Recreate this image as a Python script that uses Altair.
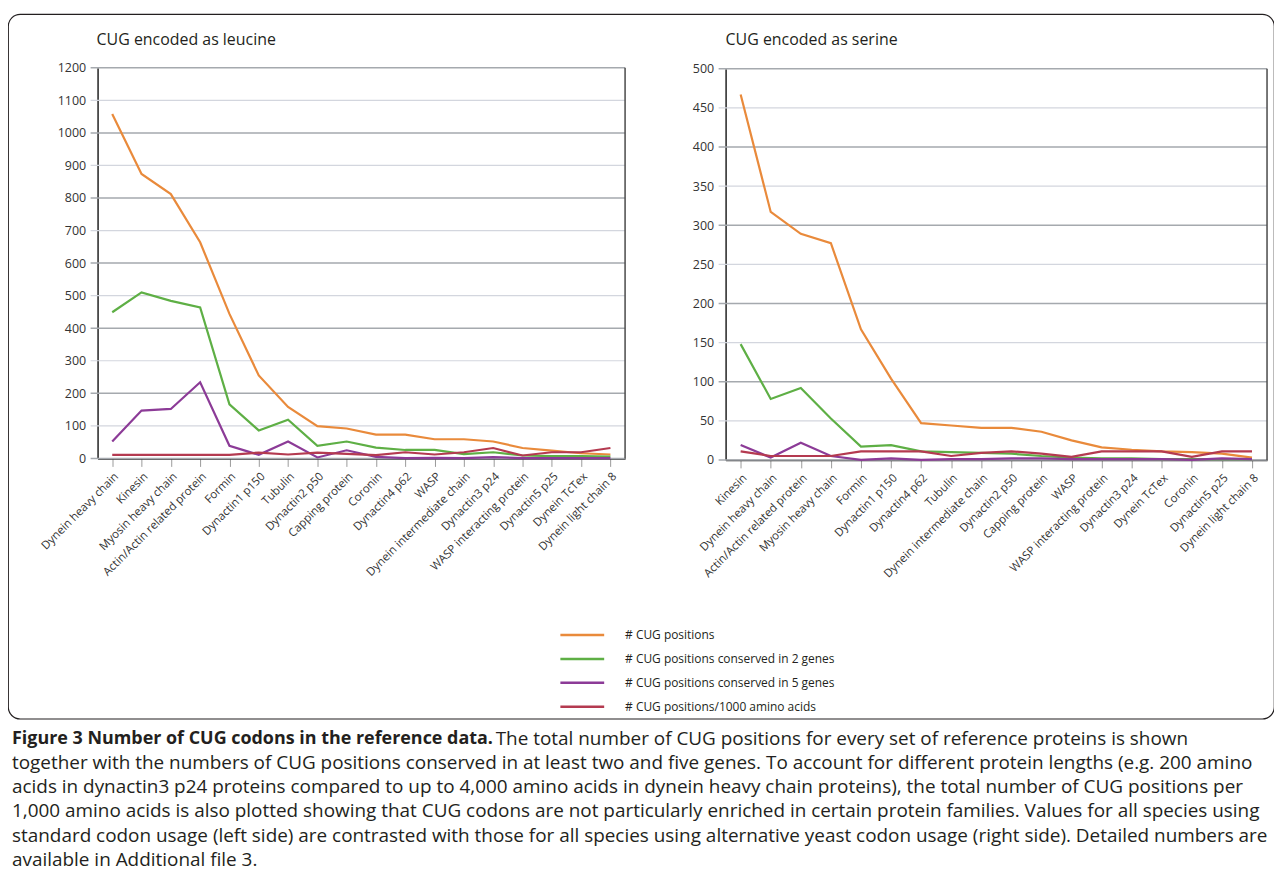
import altair as alt
import pandas as pd

# ---------------- data ----------------
series_names = [
    "# CUG positions",
    "# CUG positions conserved in 2 genes",
    "# CUG positions conserved in 5 genes",
    "# CUG positions/1000 amino acids",
]
series_colors = ["#E98A3B", "#5EAF45", "#8C3B97", "#B43A50"]

left_categories = [
    "Dynein heavy chain", "Kinesin", "Myosin heavy chain", "Actin/Actin related protein",
    "Formin", "Dynactin1 p150", "Tubulin", "Dynactin2 p50", "Capping protein", "Coronin",
    "Dynactin4 p62", "WASP", "Dynein intermediate chain", "Dynactin3 p24",
    "WASP interacting protein", "Dynactin5 p25", "Dynein TcTex", "Dynein light chain 8",
]
left_total = [1058, 874, 812, 664, 444, 255, 158, 99, 92, 73, 73, 59, 59, 52, 32, 24, 16, 12]
left_cons2 = [449, 510, 484, 464, 166, 86, 119, 39, 52, 33, 26, 26, 13, 19, 9, 7, 7, 6]
left_cons5 = [52, 147, 152, 234, 39, 11, 52, 3, 25, 5, 1, 2, 1, 4, 1, 1, 1, 1]
left_per1000 = [11, 11, 11, 11, 11, 18, 12, 18, 14, 10, 19, 12, 19, 32, 9, 19, 19, 32]

right_categories = [
    "Kinesin", "Dynein heavy chain", "Actin/Actin related protein", "Myosin heavy chain",
    "Formin", "Dynactin1 p150", "Dynactin4 p62", "Tubulin", "Dynein intermediate chain",
    "Dynactin2 p50", "Capping protein", "WASP", "WASP interacting protein", "Dynactin3 p24",
    "Dynein TcTex", "Coronin", "Dynactin5 p25", "Dynein light chain 8",
]
right_total = [467, 317, 289, 277, 167, 104, 47, 44, 41, 41, 36, 25, 16, 13, 11, 10, 8, 3]
right_cons2 = [148, 78, 92, 53, 17, 19, 11, 10, 9, 8, 5, 3, 2, 2, 1, 1, 1, 1]
right_cons5 = [19, 3, 22, 5, 0, 2, 0, 1, 1, 2, 2, 1, 1, 1, 1, 0, 2, 1]
right_per1000 = [11, 5, 5, 5, 11, 11, 11, 5, 9, 11, 8, 4, 11, 11, 11, 4, 11, 11]

left_ticks = [0, 100, 200, 300, 400, 500, 600, 700, 800, 900, 1000, 1100, 1200]
right_ticks = [0, 50, 100, 150, 200, 250, 300, 350, 400, 450, 500]

left_title = "CUG encoded as leucine"
right_title = "CUG encoded as serine"

caption_bold = "Figure 3 Number of CUG codons in the reference data."
caption_first = "The total number of CUG positions for every set of reference proteins is shown"
caption_rest = [
    "together with the numbers of CUG positions conserved in at least two and five genes. To account for different protein lengths (e.g. 200 amino",
    "acids in dynactin3 p24 proteins compared to up to 4,000 amino acids in dynein heavy chain proteins), the total number of CUG positions per",
    "1,000 amino acids is also plotted showing that CUG codons are not particularly enriched in certain protein families. Values for all species using",
    "standard codon usage (left side) are contrasted with those for all species using alternative yeast codon usage (right side). Detailed numbers are",
    "available in Additional file 3.",
]

# ---------------- layout ----------------
W, H = 1272, 708
FONT = "Open Sans"
TXT = "#231f20"
CAP_SIZE = 19

color_scale = alt.Scale(domain=series_names, range=series_colors)
one = pd.DataFrame({"a": [0]})


def long_df(cats, vals):
    rows = []
    for s, v in zip(series_names, vals):
        for c, y in zip(cats, v):
            rows.append({"cat": c, "series": s, "value": y})
    return pd.DataFrame(rows)


def panel(cats, vals, ticks, ymax, x0, x1, y0, y1):
    xs = alt.Scale(type="point", domain=cats, range=[x0, x1], padding=0.5)
    ys = alt.Scale(domain=[0, ymax], range=[y0, y1], nice=False, zero=True)
    gdf = pd.DataFrame({"v": ticks, "major": [i % 2 == 0 for i in range(len(ticks))]})
    layers = []
    layers.append(
        alt.Chart(gdf[~gdf.major]).mark_rule(color="#d3d6de", strokeWidth=1.2).encode(
            y=alt.Y("v:Q", scale=ys, axis=None), x=alt.value(x0 - 7), x2=alt.value(x1))
    )
    layers.append(
        alt.Chart(gdf[gdf.major]).mark_rule(color="#a5a9ae", strokeWidth=1.5).encode(
            y=alt.Y("v:Q", scale=ys, axis=None), x=alt.value(x0 - 7), x2=alt.value(x1))
    )
    layers.append(
        alt.Chart(one).mark_rule(color="#4a4a4a", strokeWidth=1.5).encode(
            x=alt.value(x1), y=alt.value(y1), y2=alt.value(y0))
    )
    df = long_df(cats, vals)
    layers.append(
        alt.Chart(df).mark_line(strokeWidth=2.2).encode(
            x=alt.X("cat:N", scale=xs, sort=cats,
                    axis=alt.Axis(orient="bottom", offset=-(H - y0), labelAngle=-45,
                                  grid=False, domainColor="#222", domainWidth=1.5,
                                  tickColor="#9a9a9a", tickSize=8, labelFont=FONT,
                                  labelFontSize=11.5, labelColor="#333", labelPadding=4,
                                  title=None, labelOverlap=False)),
            y=alt.Y("value:Q", scale=ys,
                    axis=alt.Axis(orient="left", offset=-x0, values=ticks, grid=False,
                                  domainColor="#222", domainWidth=1.5, ticks=False,
                                  labelFont=FONT, labelFontSize=12.5, labelColor="#333",
                                  labelPadding=12, title=None, format="d")),
            color=alt.Color("series:N", scale=color_scale, legend=None),
            order=alt.Order("series:N"),
        )
    )
    return layers


layers = []
layers += panel(left_categories, [left_total, left_cons2, left_cons5, left_per1000],
                left_ticks, 1200, 90, 620, 446.5, 54)
layers += panel(right_categories, [right_total, right_cons2, right_cons5, right_per1000],
                right_ticks, 500, 721, 1265, 448, 55)

# titles
layers.append(
    alt.Chart(pd.DataFrame({"t": [left_title]})).mark_text(
        align="left", baseline="middle", font=FONT, fontSize=16, color=TXT).encode(
        x=alt.value(89), y=alt.value(26), text="t:N")
)
layers.append(
    alt.Chart(pd.DataFrame({"t": [right_title]})).mark_text(
        align="left", baseline="middle", font=FONT, fontSize=16, color=TXT).encode(
        x=alt.value(721), y=alt.value(26), text="t:N")
)

# legend
leg = pd.DataFrame({"series": series_names})
leg_y = alt.Scale(type="point", domain=series_names, range=[624, 696], padding=0)
layers.append(
    alt.Chart(leg).mark_rule(strokeWidth=2.5).encode(
        x=alt.value(555), x2=alt.value(599),
        y=alt.Y("series:N", scale=leg_y, axis=None),
        color=alt.Color("series:N", scale=color_scale, legend=None))
)
layers.append(
    alt.Chart(leg).mark_text(align="left", baseline="middle", font=FONT, fontSize=12,
                             color=TXT).encode(
        x=alt.value(620), y=alt.Y("series:N", scale=leg_y, axis=None), text="series:N")
)

# caption
cap_y = alt.Scale(type="point", domain=[0, 1, 2, 3, 4, 5], range=[728, 850], padding=0)
layers.append(
    alt.Chart(pd.DataFrame({"i": [0], "t": [caption_bold]})).mark_text(
        align="left", baseline="middle", font=FONT, fontSize=18,
        fontWeight="bold", color=TXT).encode(
        x=alt.value(4), y=alt.Y("i:O", scale=cap_y, axis=None), text="t:N")
)
layers.append(
    alt.Chart(pd.DataFrame({"i": [0], "t": [caption_first]})).mark_text(
        align="left", baseline="middle", font=FONT, fontSize=CAP_SIZE, color=TXT).encode(
        x=alt.value(490), y=alt.Y("i:O", scale=cap_y, axis=None), text="t:N")
)
layers.append(
    alt.Chart(pd.DataFrame({"i": [1, 2, 3, 4, 5], "t": caption_rest})).mark_text(
        align="left", baseline="middle", font=FONT, fontSize=CAP_SIZE, color=TXT).encode(
        x=alt.value(4), y=alt.Y("i:O", scale=cap_y, axis=None), text="t:N")
)

chart = (
    alt.layer(*layers)
    .resolve_scale(x="independent", y="independent")
    .properties(width=W, height=H, autosize=alt.AutoSizeParams(type="none"),
                padding={"left": 0, "top": 4, "right": 0, "bottom": 160})
    .configure_view(stroke="#231f20", strokeWidth=1.2, cornerRadius=12)
)

chart.save("out.html", embed_options={"renderer": "svg", "actions": False})
